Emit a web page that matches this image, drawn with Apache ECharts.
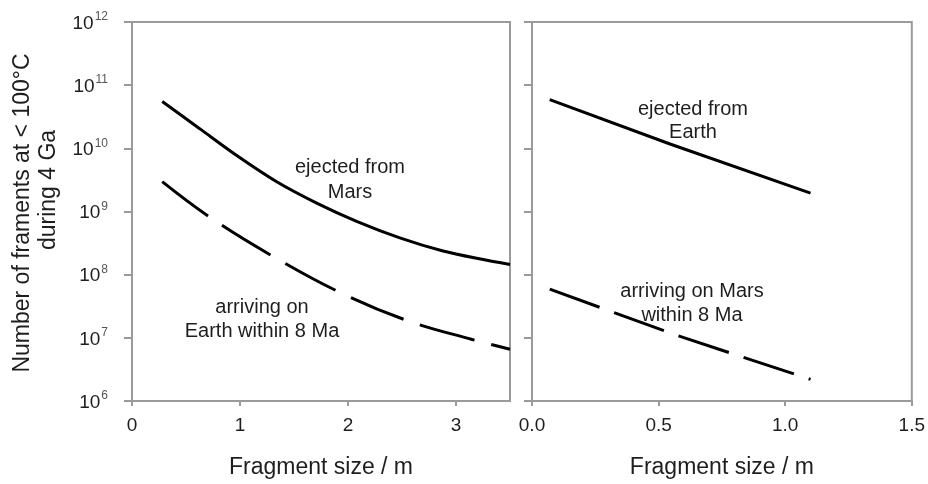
<!DOCTYPE html>
<html>
<head>
<meta charset="utf-8">
<script src="https://cdn.jsdelivr.net/npm/echarts@6/dist/echarts.min.js"></script>
<style>
html,body{margin:0;padding:0;background:#fff;}
#c{width:928px;height:484px;}
</style>
</head>
<body>
<div id="c"></div>
<script>
// ---- data ----
// Left panel: fragments from Mars
var marsEjectedX = [0.28, 0.63, 0.97, 1.34, 1.71, 2.08, 2.48, 2.88, 3.24, 3.5];
var marsEjectedY = [5.5e10, 2.03e10, 7.7e9, 2.96e9, 1.36e9, 7.0e8, 3.83e8, 2.37e8, 1.75e8, 1.45e8];
var earthArrivingX = [0.28, 0.74, 1.34, 1.94, 2.54, 3.15, 3.5];
var earthArrivingY = [2.97e9, 7.7e8, 1.8e8, 5.1e7, 1.9e7, 9.4e6, 6.6e6];
// Right panel: fragments from Earth
var earthEjectedX = [0.07, 0.545, 1.10];
var earthEjectedY = [5.9e10, 1.17e10, 1.95e9];
var marsArrivingX = [0.07, 0.57, 1.10];
var marsArrivingY = [5.9e7, 1.1e7, 2.2e6];
// ticks
var yTickExponents = [6, 7, 8, 9, 10, 11, 12];
var leftXTicks = [0, 1, 2, 3];
var rightXTicks = [0, 0.5, 1.0, 1.5];
var rightXTickLabels = ['0.0', '0.5', '1.0', '1.5'];

function pairs(xs, ys) { return xs.map(function (x, i) { return [x, ys[i]]; }); }

var FONT = '"Liberation Sans", Arial, sans-serif';
var TXT = '#1e1e1e';
var AX = '#9a9a9a';

function yAxis(gridIndex, showLabels) {
  return {
    type: 'log', logBase: 10, gridIndex: gridIndex,
    min: Math.pow(10, yTickExponents[0]),
    max: Math.pow(10, yTickExponents[yTickExponents.length - 1]),
    axisLine: { show: true, lineStyle: { color: AX, width: 2 } },
    axisTick: { show: true, inside: false, length: 8, lineStyle: { color: AX, width: 2 } },
    splitLine: { show: false },
    minorTick: { show: false },
    axisLabel: {
      show: showLabels, margin: 24, fontFamily: FONT, color: TXT,
      formatter: function (v) {
        var e = Math.round(Math.log10(v));
        return '{b|10}{s|' + e + '}';
      },
      rich: {
        b: { fontSize: 19, fontFamily: FONT, color: TXT, lineHeight: 22, verticalAlign: 'bottom' },
        s: { fontSize: 12, fontFamily: FONT, color: '#555', lineHeight: 22, verticalAlign: 'top', padding: [0, 0, 10, 1] }
      }
    }
  };
}

function xAxis(gridIndex, min, max, interval, ticks, labels) {
  return {
    type: 'value', gridIndex: gridIndex, min: min, max: max, interval: interval,
    name: 'Fragment size / m', nameLocation: 'middle', nameGap: 55,
    nameTextStyle: { fontSize: 23, fontFamily: FONT, color: TXT },
    axisLine: { show: true, onZero: false, lineStyle: { color: AX, width: 2 } },
    axisTick: { show: true, length: 5, customValues: ticks, lineStyle: { color: AX, width: 2 } },
    splitLine: { show: false },
    axisLabel: {
      margin: 15, fontSize: 19, fontFamily: FONT, color: TXT, customValues: ticks,
      formatter: function (v) {
        if (labels) { var i = ticks.indexOf(v); return i >= 0 ? labels[i] : ''; }
        return String(v);
      }
    }
  };
}

var chart = echarts.init(document.getElementById('c'), null, { renderer: 'canvas' });
chart.setOption({
  backgroundColor: '#fff',
  animation: false,
  grid: [
    { left: 132, top: 22, width: 378, height: 382, show: true, borderColor: AX, borderWidth: 2, backgroundColor: 'transparent' },
    { left: 532, top: 22, width: 380, height: 382, show: true, borderColor: AX, borderWidth: 2, backgroundColor: 'transparent' }
  ],
  xAxis: [
    xAxis(0, 0, 3.5, 1, leftXTicks, null),
    xAxis(1, 0, 1.5, 0.5, rightXTicks, rightXTickLabels)
  ],
  yAxis: [yAxis(0, true), yAxis(1, false)],
  series: [
    { type: 'line', xAxisIndex: 0, yAxisIndex: 0, data: pairs(marsEjectedX, marsEjectedY), smooth: 0.3,
      showSymbol: false, lineStyle: { color: '#000', width: 3 } },
    { type: 'line', xAxisIndex: 0, yAxisIndex: 0, data: pairs(earthArrivingX, earthArrivingY), smooth: 0.4,
      showSymbol: false, lineStyle: { color: '#000', width: 3, type: [57, 17] } },
    { type: 'line', xAxisIndex: 1, yAxisIndex: 1, data: pairs(earthEjectedX, earthEjectedY),
      showSymbol: false, lineStyle: { color: '#000', width: 3 } },
    { type: 'line', xAxisIndex: 1, yAxisIndex: 1, data: pairs(marsArrivingX, marsArrivingY),
      showSymbol: false, lineStyle: { color: '#000', width: 3, type: [53, 15.5] } }
  ],
  graphic: [
    { type: 'text', x: 23, y: 213, rotation: Math.PI / 2,
      style: { text: 'Number of framents at < 100°C', font: '23px ' + FONT, fill: TXT, align: 'center', verticalAlign: 'middle' } },
    { type: 'text', x: 49, y: 190, rotation: Math.PI / 2,
      style: { text: 'during 4 Ga', font: '23px ' + FONT, fill: TXT, align: 'center', verticalAlign: 'middle' } },
    { type: 'text', x: 350, y: 179.5,
      style: { text: 'ejected from\nMars', font: '20px ' + FONT, lineHeight: 25, fill: TXT, align: 'center', verticalAlign: 'middle' } },
    { type: 'text', x: 262, y: 319,
      style: { text: 'arriving on\nEarth within 8 Ma', font: '20px ' + FONT, lineHeight: 24, fill: TXT, align: 'center', verticalAlign: 'middle' } },
    { type: 'text', x: 693, y: 120.5,
      style: { text: 'ejected from\nEarth', font: '20px ' + FONT, lineHeight: 23, fill: TXT, align: 'center', verticalAlign: 'middle' } },
    { type: 'text', x: 692, y: 303,
      style: { text: 'arriving on Mars\nwithin 8 Ma', font: '20px ' + FONT, lineHeight: 24, fill: TXT, align: 'center', verticalAlign: 'middle' } }
  ]
});
</script>
</body>
</html>
